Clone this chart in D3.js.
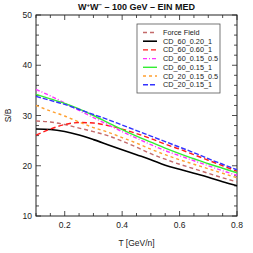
<!DOCTYPE html>
<html>
<head>
<meta charset="utf-8">
<script src="https://cdn.jsdelivr.net/npm/d3@7"></script>
<style>
  html, body { margin: 0; padding: 0; background: #fff; }
  svg { display: block; font-family: "Liberation Sans", Arial, sans-serif; }
</style>
</head>
<body>
<svg id="chart"></svg>
<script>
// T [GeV/n] sample points
const energies = [0.1, 0.15, 0.2, 0.25, 0.3, 0.35, 0.4, 0.45, 0.5, 0.55, 0.6, 0.65, 0.7, 0.75, 0.8];

// S/B values
const forceField   = [28.9, 28.7, 28.2, 27.5, 26.8, 26.0, 24.9, 23.7, 22.4, 21.3, 20.3, 19.4, 18.5, 17.6, 16.8];
const cd60_020_1   = [27.3, 27.2, 26.8, 26.1, 25.2, 24.2, 23.2, 22.2, 21.2, 20.1, 19.3, 18.5, 17.7, 16.8, 16.0];
const cd60_060_1   = [26.1, 27.3, 28.2, 28.6, 28.5, 28.0, 27.3, 26.4, 25.4, 24.3, 23.3, 22.2, 21.1, 20.0, 18.9];
const cd60_015_05  = [35.2, 33.9, 32.5, 31.0, 29.6, 28.2, 26.8, 25.5, 24.2, 23.0, 22.0, 21.0, 20.0, 19.0, 18.1];
const cd60_015_1   = [34.2, 33.3, 32.4, 31.3, 30.0, 28.6, 27.2, 25.9, 24.7, 23.5, 22.4, 21.4, 20.4, 19.5, 18.6];
const cd20_015_05  = [32.0, 30.9, 29.9, 28.7, 27.6, 26.7, 25.6, 24.5, 23.3, 22.2, 21.2, 20.3, 19.4, 18.5, 17.6];
const cd20_015_1   = [33.8, 33.0, 32.2, 31.2, 30.2, 29.2, 28.1, 27.0, 25.9, 24.8, 23.7, 22.6, 21.4, 20.3, 19.2];

const xTicks = [0.2, 0.4, 0.6, 0.8];
const yTicks = [10, 20, 30, 40, 50];

const series = [
  { name: 'Force Field',     values: forceField,  color: '#c46a6a', dash: '4,3',     w: 1.4 },
  { name: 'CD_60_0.20_1',    values: cd60_020_1,  color: '#000000', dash: null,      w: 1.6 },
  { name: 'CD_60_0.60_1',    values: cd60_060_1,  color: '#ff1a1a', dash: '5,3',     w: 1.4 },
  { name: 'CD_60_0.15_0.5',  values: cd60_015_05, color: '#ff33ff', dash: '4,2,1,2', w: 1.4 },
  { name: 'CD_60_0.15_1',    values: cd60_015_1,  color: '#33ee33', dash: null,      w: 1.4 },
  { name: 'CD_20_0.15_0.5',  values: cd20_015_05, color: '#ffa030', dash: '3,3',     w: 1.4 },
  { name: 'CD_20_0.15_1',    values: cd20_015_1,  color: '#3333ff', dash: '5,2',     w: 1.4 }
];

const width = 253, height = 253;
const margin = { top: 15, right: 16, bottom: 37, left: 36 };

const svg = d3.select('#chart').attr('width', width).attr('height', height);

const x = d3.scaleLinear().domain([0.1, 0.8]).range([margin.left, width - margin.right]);
const y = d3.scaleLinear().domain([10, 50]).range([height - margin.bottom, margin.top]);

// frame
svg.append('rect')
  .attr('x', x(0.1)).attr('y', y(50))
  .attr('width', x(0.8) - x(0.1)).attr('height', y(10) - y(50))
  .attr('fill', 'none').attr('stroke', '#222').attr('stroke-width', 1);

// inward ticks on all sides
const xMinor = d3.range(0.1, 0.8001, 0.05);
const yMinor = d3.range(10, 50.001, 2);
const tickG = svg.append('g').attr('stroke', '#222').attr('stroke-width', 0.8);
xMinor.forEach(v => {
  const major = Math.abs(v * 10 - Math.round(v * 10)) < 1e-6 && Math.round(v * 10) % 2 === 0;
  const len = major ? 5 : 3;
  tickG.append('line').attr('x1', x(v)).attr('x2', x(v)).attr('y1', y(10)).attr('y2', y(10) - len);
  tickG.append('line').attr('x1', x(v)).attr('x2', x(v)).attr('y1', y(50)).attr('y2', y(50) + len);
});
yMinor.forEach(v => {
  const len = v % 10 === 0 ? 5 : 3;
  tickG.append('line').attr('x1', x(0.1)).attr('x2', x(0.1) + len).attr('y1', y(v)).attr('y2', y(v));
  tickG.append('line').attr('x1', x(0.8)).attr('x2', x(0.8) - len).attr('y1', y(v)).attr('y2', y(v));
});

// tick labels
svg.append('g').selectAll('text').data(xTicks).join('text')
  .attr('x', d => x(d)).attr('y', y(10) + 12)
  .attr('text-anchor', 'middle').attr('font-size', 8.5).attr('fill', '#222')
  .text(d => d.toFixed(1));
svg.append('g').selectAll('text').data(yTicks).join('text')
  .attr('x', x(0.1) - 4).attr('y', d => y(d) + 3)
  .attr('text-anchor', 'end').attr('font-size', 8.5).attr('fill', '#222')
  .text(d => d);

// axis labels and title
svg.append('text').attr('x', (x(0.1) + x(0.8)) / 2).attr('y', 246)
  .attr('text-anchor', 'middle').attr('font-size', 8.5).attr('fill', '#222')
  .text('T [GeV/n]');
svg.append('text')
  .attr('transform', `translate(11,${(y(10) + y(50)) / 2}) rotate(-90)`)
  .attr('text-anchor', 'middle').attr('font-size', 8.5).attr('fill', '#222')
  .text('S/B');

const title = svg.append('text').attr('x', (x(0.1) + x(0.8)) / 2).attr('y', 10)
  .attr('text-anchor', 'middle').attr('font-size', 9).attr('font-weight', 'bold').attr('fill', '#111');
title.append('tspan').text('W');
title.append('tspan').attr('font-size', 6).attr('dy', -3).text('+');
title.append('tspan').attr('dy', 3).text('W');
title.append('tspan').attr('font-size', 6).attr('dy', -3).text('\u2212');
title.append('tspan').attr('dy', 3).text(' \u2013 100 GeV \u2013 EIN MED');

// curves
const line = d3.line()
  .x((d, i) => x(energies[i]))
  .y(d => y(d))
  .curve(d3.curveMonotoneX);

const plot = svg.append('g');
series.forEach(s => {
  plot.append('path')
    .attr('d', line(s.values))
    .attr('fill', 'none')
    .attr('stroke', s.color)
    .attr('stroke-width', s.w)
    .attr('stroke-dasharray', s.dash);
});

// legend
const lg = svg.append('g').attr('transform', 'translate(137,24)');
lg.append('rect').attr('x', 0).attr('y', 0).attr('width', 83).attr('height', 69)
  .attr('fill', '#fff').attr('stroke', '#555').attr('stroke-width', 0.8);
series.forEach((s, i) => {
  const yy = 8.5 + i * 8.7;
  lg.append('line').attr('x1', 6).attr('x2', 20).attr('y1', yy).attr('y2', yy)
    .attr('stroke', s.color).attr('stroke-width', s.w).attr('stroke-dasharray', s.dash);
  lg.append('text').attr('x', 26).attr('y', yy + 2.5)
    .attr('font-size', 7.3).attr('fill', '#222').text(s.name);
});
</script>
</body>
</html>
